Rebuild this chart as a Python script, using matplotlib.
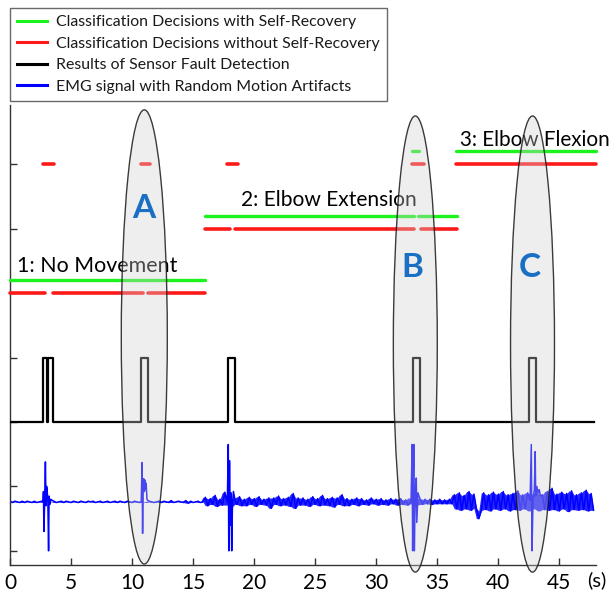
import numpy as np
import matplotlib
matplotlib.use("Agg")
import matplotlib.pyplot as plt
from matplotlib.patches import Ellipse
from matplotlib.lines import Line2D

plt.rcParams['font.family'] = ['Lato', 'DejaVu Sans']

# ---------------- data ----------------
# class levels on the y axis
class_level = {1: 4.0, 2: 5.0, 3: 6.0}
green_offset = 0.2

# classification decisions with self-recovery: (start, end, class)
green_segments = [(0.0, 16.0, 1), (16.0, 33.1, 2), (33.4, 36.6, 2),
                  (32.9, 33.5, 3), (36.5, 48.0, 3)]
# classification decisions without self-recovery: (start, end, class)
red_segments = [(0.0, 2.9, 1), (3.5, 10.9, 1), (11.3, 16.0, 1),
                (16.0, 18.0, 2), (18.4, 33.1, 2), (33.7, 36.6, 2),
                (2.7, 3.6, 3), (10.7, 11.5, 3), (17.8, 18.7, 3),
                (32.9, 33.9, 3), (36.5, 48.0, 3)]

# sensor fault detection: fault intervals and levels
fault_start = [2.7, 3.1, 10.7, 17.85, 33.0, 42.5]
fault_end = [3.0, 3.5, 11.3, 18.4, 33.6, 43.1]
det_low, det_high = 2.0, 3.0
det_t_end = 47.8

emg_dt = 0.2
emg_bg = [
    0.77, 0.75, 0.77, 0.76, 0.75, 0.77, 0.75, 0.77, 0.76, 0.75, 0.77, 0.75, 0.76, 0.77, 0.75, 0.77, 0.78, 0.76, 0.77, 0.75,
    0.76, 0.77, 0.75, 0.77, 0.76, 0.75, 0.77, 0.76, 0.75, 0.77, 0.76, 0.75, 0.77, 0.76, 0.77, 0.75, 0.76, 0.77, 0.75, 0.76,
    0.77, 0.75, 0.76, 0.77, 0.75, 0.77, 0.76, 0.75, 0.77, 0.76, 0.75, 0.77, 0.76, 0.75, 0.77, 0.76, 0.75, 0.77, 0.76, 0.75,
    0.76, 0.77, 0.75, 0.77, 0.76, 0.75, 0.78, 0.75, 0.76, 0.77, 0.76, 0.75, 0.78, 0.74, 0.77, 0.75, 0.76, 0.77, 0.75, 0.76,
    0.83, 0.70, 0.81, 0.72, 0.86, 0.69, 0.80, 0.71, 0.91, 0.71, 0.82, 0.68, 0.82, 0.72, 0.84, 0.70, 0.80, 0.70, 0.83, 0.72,
    0.81, 0.69, 0.84, 0.72, 0.80, 0.71, 0.82, 0.66, 0.82, 0.72, 0.85, 0.70, 0.81, 0.71, 0.83, 0.69, 0.89, 0.66, 0.82, 0.71,
    0.82, 0.71, 0.80, 0.69, 0.84, 0.72, 0.81, 0.70, 0.86, 0.71, 0.81, 0.70, 0.83, 0.68, 0.82, 0.72, 0.87, 0.70, 0.81, 0.70,
    0.80, 0.72, 0.82, 0.70, 0.81, 0.72, 0.79, 0.71, 0.82, 0.73, 0.80, 0.71, 0.81, 0.72, 0.79, 0.71, 0.81, 0.73, 0.80, 0.71,
    0.81, 0.72, 0.79, 0.71, 0.82, 0.73, 0.80, 0.71, 0.81, 0.72, 0.80, 0.73, 0.80, 0.72, 0.79, 0.73, 0.80, 0.73, 0.79, 0.73,
    0.80, 0.73, 0.87, 0.65, 0.90, 0.63, 0.86, 0.65, 0.92, 0.63, 0.88, 0.66, 0.50, 0.62, 0.90, 0.64, 0.87, 0.62, 0.91, 0.65,
    0.88, 0.63, 0.92, 0.65, 0.87, 0.62, 0.89, 0.64, 0.93, 0.63, 0.87, 0.65, 0.90, 0.62, 0.88, 0.65, 0.91, 0.62, 0.87, 0.64,
    0.92, 0.63, 0.97, 0.64, 0.88, 0.62, 0.91, 0.65, 0.89, 0.61, 0.93, 0.64, 0.87, 0.63, 0.90, 0.64, 0.94, 0.62, 0.89, 0.63,
]
# motion artifacts (time windows and finely read samples)
artifact_windows = [(2.65, 3.45), (10.7, 11.35), (17.75, 18.55), (32.8, 33.65), (42.55, 43.5)]
spike_t = [2.70, 2.74, 2.78, 2.84, 2.90, 2.95, 3.00, 3.04, 3.10, 3.16, 3.20, 3.26, 3.32, 3.40,
           10.75, 10.82, 10.86, 10.90, 10.95, 11.00, 11.05, 11.10, 11.15, 11.22, 11.30,
           17.80, 17.88, 17.92, 17.98, 18.04, 18.10, 18.16, 18.22, 18.30, 18.40, 18.50,
           32.85, 32.94, 32.98, 33.03, 33.08, 33.12, 33.20, 33.28, 33.32, 33.42, 33.50, 33.60,
           42.60, 42.70, 42.76, 42.84, 42.95, 43.02, 43.06, 43.15, 43.25, 43.35, 43.45]
spike_v = [0.76, 0.92, 0.30, 0.80, 1.38, 0.70, 1.00, 0.95, 0.78, 0.00, 0.85, 0.72, 0.80, 0.79,
           0.76, 1.37, 0.27, 0.95, 1.12, 0.92, 1.10, 0.95, 1.05, 0.80, 0.78,
           0.75, 1.65, 0.00, 1.40, 0.40, 0.90, 0.00, 0.70, 0.92, 0.82, 0.74,
           0.76, 1.65, 0.00, 1.05, 1.65, 0.00, 1.00, 1.13, 0.44, 0.90, 0.85, 0.80,
           0.78, 1.65, 0.00, 0.80, 0.95, 1.54, 0.85, 1.00, 0.90, 0.95, 0.85]

xticks = [0, 5, 10, 15, 20, 25, 30, 35, 40, 45]
yticks = [0, 1, 2, 3, 4, 5, 6]
class_labels = ['1: No Movement', '2: Elbow Extension', '3: Elbow Flexion']
legend_labels = ['Classification Decisions with Self-Recovery',
                 'Classification Decisions without Self-Recovery',
                 'Results of Sensor Fault Detection',
                 'EMG signal with Random Motion Artifacts']
marks = ['A', 'B', 'C']

# ---------------- colors ----------------
GREEN = '#1cf21c'
RED = '#ff1a1a'
BLACK = '#000000'
BLUE = '#0000ff'
MARK = '#1a6fc4'

# ---------------- figure ----------------
fig = plt.figure(figsize=(6.12, 5.93), dpi=100)
ax = fig.add_axes([10 / 612, 28 / 593, 586 / 612, 460 / 593])
ax.set_xlim(0, 48)
ax.set_ylim(-0.22, 6.92)

# EMG: dense background band + artifacts
bg_t = np.arange(len(emg_bg)) * emg_dt
bg_v = np.array(emg_bg)
# band covered by the densely oscillating signal between neighbouring samples
nb_lo = np.minimum(bg_v, np.r_[bg_v[1:], bg_v[-1]])
nb_hi = np.maximum(bg_v, np.r_[bg_v[1:], bg_v[-1]])
ax.fill_between(bg_t, nb_lo, nb_hi, color=BLUE, lw=0, alpha=0.85, zorder=2)
keep = np.ones(len(bg_t), dtype=bool)
for a, b in artifact_windows:
    keep &= ~((bg_t >= a) & (bg_t <= b))
emg_t = np.concatenate([bg_t[keep], np.array(spike_t)])
emg_v = np.concatenate([bg_v[keep], np.array(spike_v)])
order = np.argsort(emg_t)
ax.plot(emg_t[order], emg_v[order], color=BLUE, lw=1.1, zorder=2)

# fault detection step signal
dt = [0.0]
dv = [det_low]
for s, e in zip(fault_start, fault_end):
    dt += [s, s, e, e]
    dv += [det_low, det_high, det_high, det_low]
dt.append(det_t_end)
dv.append(det_low)
ax.plot(dt, dv, color=BLACK, lw=1.6, zorder=3)

# classification decisions
for s, e, c in green_segments:
    ax.plot([s, e], [class_level[c] + green_offset] * 2, color=GREEN, lw=2.4,
            solid_capstyle='round', zorder=3, clip_on=False)
for s, e, c in red_segments:
    ax.plot([s, e], [class_level[c]] * 2, color=RED, lw=2.6,
            solid_capstyle='round', zorder=3, clip_on=False)

# class annotations
ax.text(0.6, 4.42, class_labels[0], fontsize=15.4, ha='left', va='center', color='black', zorder=1)
ax.text(18.9, 5.44, class_labels[1], fontsize=15.1, ha='left', va='center', color='black', zorder=1)
ax.text(36.9, 6.38, class_labels[2], fontsize=14.9, ha='left', va='center', color='black',
        zorder=1, clip_on=False)

# ellipses
ell = [(11.0, 3.32, 3.77, 7.05), (33.2, 3.21, 3.6, 7.08), (42.8, 3.21, 3.6, 7.08)]
for (cx, cy, w, h) in ell:
    e = Ellipse((cx, cy), w, h, facecolor=(0.82, 0.82, 0.82, 0.35),
                edgecolor=(0.1, 0.1, 0.1, 0.85), lw=1.0, zorder=5, clip_on=False)
    ax.add_patch(e)

# marks A B C
ax.text(10.95, 5.32, marks[0], fontsize=24, fontweight='bold', color=MARK, ha='center', va='center', zorder=6)
ax.text(32.95, 4.40, marks[1], fontsize=24, fontweight='bold', color=MARK, ha='center', va='center', zorder=6)
ax.text(42.6, 4.40, marks[2], fontsize=24, fontweight='bold', color=MARK, ha='center', va='center', zorder=6)

# axes styling
for sp in ['top', 'right']:
    ax.spines[sp].set_visible(False)
for sp in ['left', 'bottom']:
    ax.spines[sp].set_color('#333333')
    ax.spines[sp].set_linewidth(1.0)
ax.set_xticks(xticks)
ax.set_xticklabels([str(x) for x in xticks], fontsize=15)
ax.set_yticks(yticks)
ax.set_yticklabels([])
ax.tick_params(axis='both', direction='in', length=5, width=1, color='#333333')
ax.tick_params(axis='x', pad=6)
fig.text(606 / 612, 1 - 580 / 593, '(s)', fontsize=14.5, ha='right', va='center')

# legend
handles = [Line2D([], [], color=GREEN, lw=2.2),
           Line2D([], [], color=RED, lw=2.2),
           Line2D([], [], color=BLACK, lw=2.2),
           Line2D([], [], color=BLUE, lw=2.2)]
leg = fig.legend(handles, legend_labels, loc='upper left',
                 bbox_to_anchor=(10 / 612, 1 - 8 / 593), bbox_transform=fig.transFigure,
                 fontsize=11.4, frameon=True, fancybox=False, borderaxespad=0,
                 handlelength=1.9, handletextpad=0.55, borderpad=0.45, labelspacing=0.47)
for t in leg.get_texts():
    t.set_color('#1a1a1a')
leg.get_frame().set_edgecolor('#444444')
leg.get_frame().set_linewidth(1.0)

fig.savefig('out.png', dpi=100)
